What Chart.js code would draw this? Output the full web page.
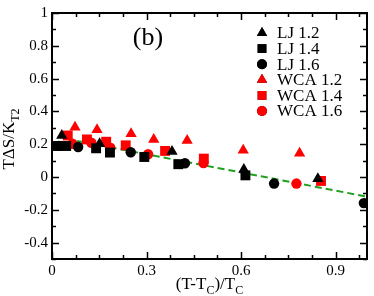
<!DOCTYPE html>
<html>
<head>
<meta charset="utf-8">
<script src="https://cdn.jsdelivr.net/npm/chart.js@4"></script>
<style>
  html, body { margin: 0; padding: 0; background: #fff; }
  #wrap { width: 374px; height: 296px; }
</style>
</head>
<body>
<div id="wrap"><canvas id="chart" width="374" height="296"></canvas></div>
<script>
// values
const lj12X = [0.031, 0.151, 0.381, 0.609, 0.844];
const lj12Y = [0.253, 0.202, 0.156, 0.046, -0.010];
const lj14X = [0.018, 0.045, 0.140, 0.184, 0.293, 0.401, 0.614];
const lj14Y = [0.189, 0.189, 0.175, 0.149, 0.122, 0.078, 0.010];
const lj16X = [0.022, 0.083, 0.250, 0.422, 0.705, 0.990];
const lj16Y = [0.190, 0.183, 0.151, 0.084, -0.040, -0.159];
const wca12X = [0.073, 0.143, 0.251, 0.323, 0.429, 0.607, 0.786];
const wca12Y = [0.304, 0.288, 0.264, 0.229, 0.223, 0.163, 0.145];
const wca14X = [0.050, 0.111, 0.172, 0.234, 0.359, 0.482, 0.854];
const wca14Y = [0.253, 0.229, 0.215, 0.193, 0.159, 0.112, -0.024];
const wca16X = [0.065, 0.125, 0.185, 0.305, 0.481, 0.776];
const wca16Y = [0.203, 0.209, 0.179, 0.139, 0.085, -0.040];
const fitX = [0.08, 1.0];
const fitY = [0.22, -0.12];
const xTicks = [0, 0.3, 0.6, 0.9];
const yTicks = [-0.4, -0.2, 0, 0.2, 0.4, 0.6, 0.8, 1];

const serif = '"Liberation Serif", "Times New Roman", serif';

function pts(xs, ys) {
    return xs.map((x, i) => ({ x: x, y: ys[i] }));
}

function series(label, xs, ys, color, style, radius) {
    return {
        label: label,
        data: pts(xs, ys),
        showLine: false,
        pointStyle: style,
        pointRadius: radius,
        pointBackgroundColor: color,
        pointBorderColor: color,
        pointBorderWidth: 0,
        backgroundColor: color,
        borderColor: color
    };
}

const datasets = [
    series('LJ 1.2', lj12X, lj12Y, '#000', 'triangle', 6.5),
    series('LJ 1.4', lj14X, lj14Y, '#000', 'rect', 7),
    series('LJ 1.6', lj16X, lj16Y, '#000', 'circle', 5.2),
    series('WCA 1.2', wca12X, wca12Y, '#ff0000', 'triangle', 6.5),
    series('WCA 1.4', wca14X, wca14Y, '#ff0000', 'rect', 7),
    series('WCA 1.6', wca16X, wca16Y, '#ff0000', 'circle', 5.2),
    {
        label: 'fit',
        type: 'line',
        data: pts(fitX, fitY),
        borderColor: '#1fa01f',
        borderWidth: 2,
        borderDash: [7, 4],
        pointRadius: 0,
        fill: false
    }
];

// frame, inward ticks, axis titles, (b) and the legend
const decorations = {
    id: 'decorations',
    afterDraw(chart) {
        const ctx = chart.ctx;
        const a = chart.chartArea;
        const xs = chart.scales.x;
        const ys = chart.scales.y;
        ctx.save();
        ctx.strokeStyle = '#000';
        ctx.lineWidth = 1.5;
        // x ticks, major every 0.3, minor every 0.075
        for (let i = 0; i <= 13; i++) {
            const v = i * 0.075;
            if (v > 1.0001) break;
            const len = (i % 4 === 0) ? 7 : 4;
            const px = Math.round(xs.getPixelForValue(v)) + 0.5;
            ctx.beginPath();
            ctx.moveTo(px, a.bottom); ctx.lineTo(px, a.bottom - len);
            ctx.moveTo(px, a.top); ctx.lineTo(px, a.top + len);
            ctx.stroke();
        }
        // y ticks, major every 0.2, minor every 0.1
        for (let i = -5; i <= 10; i++) {
            const v = i / 10;
            const len = (i % 2 === 0) ? 7 : 4;
            const py = Math.round(ys.getPixelForValue(v)) + 0.5;
            ctx.beginPath();
            ctx.moveTo(a.left, py); ctx.lineTo(a.left + len, py);
            ctx.moveTo(a.right, py); ctx.lineTo(a.right - len, py);
            ctx.stroke();
        }
        ctx.lineWidth = 2;
        ctx.strokeRect(a.left, a.top, a.right - a.left, a.bottom - a.top);

        ctx.fillStyle = '#000';
        ctx.textBaseline = 'alphabetic';

        // x title: (T-T_C)/T_C
        const main = '17px ' + serif, sub = '12px ' + serif;
        const xParts = [['(T-T', main, 0], ['C', sub, 5], [')/T', main, 0], ['C', sub, 5]];
        let w = 0;
        xParts.forEach(p => { ctx.font = p[1]; w += ctx.measureText(p[0]).width; });
        let cx = (a.left + a.right) / 2 - w / 2;
        xParts.forEach(p => {
            ctx.font = p[1];
            ctx.fillText(p[0], cx, 289 + p[2]);
            cx += ctx.measureText(p[0]).width;
        });

        // y title: TΔS/K_T2
        const yParts = [['T\u0394S/K', main, 0], ['T2', sub, 5]];
        w = 0;
        yParts.forEach(p => { ctx.font = p[1]; w += ctx.measureText(p[0]).width; });
        ctx.save();
        ctx.translate(14, (a.top + a.bottom) / 2 + 3);
        ctx.rotate(-Math.PI / 2);
        cx = -w / 2;
        yParts.forEach(p => {
            ctx.font = p[1];
            ctx.fillText(p[0], cx, p[2]);
            cx += ctx.measureText(p[0]).width;
        });
        ctx.restore();

        // panel label
        ctx.font = '26px ' + serif;
        ctx.textAlign = 'center';
        ctx.fillText('(b)', 148, 45);
        ctx.textAlign = 'left';

        // legend
        const rowY = 33, rowGap = 15.6;
        ctx.font = '17px ' + serif;
        ctx.textBaseline = 'middle';
        chart.data.datasets.slice(0, 6).forEach((ds, i) => {
            const y = rowY + i * rowGap;
            Chart.helpers.drawPoint(ctx, {
                pointStyle: ds.pointStyle,
                radius: ds.pointStyle === 'rect' ? 6.2 : (ds.pointStyle === 'triangle' ? 6 : 5),
                borderWidth: 0,
                rotation: 0
            }, 262, y);
            ctx.fillStyle = ds.pointBackgroundColor;
            ctx.fill();
            ctx.fillStyle = '#000';
            ctx.fillText(ds.label, 277, y + 1);
        });
        ctx.restore();
    }
};

const ctx = document.getElementById('chart').getContext('2d');
new Chart(ctx, {
    type: 'scatter',
    data: { datasets: datasets },
    options: {
        responsive: false,
        animation: false,
        layout: { padding: { top: 6, right: 3, left: 0, bottom: 0 } },
        scales: {
            x: {
                type: 'linear',
                min: 0,
                max: 1,
                grid: { display: false, drawTicks: false },
                border: { display: false },
                afterBuildTicks: s => { s.ticks = xTicks.map(v => ({ value: v })); },
                afterFit: s => { s.height = 37; },
                ticks: {
                    color: '#000',
                    padding: 3,
                    maxRotation: 0,
                    font: { family: serif, size: 15 },
                    callback: v => String(v)
                }
            },
            y: {
                type: 'linear',
                min: -0.5,
                max: 1,
                grid: { display: false, drawTicks: false },
                border: { display: false },
                afterBuildTicks: s => { s.ticks = yTicks.map(v => ({ value: v })); },
                afterFit: s => { s.width = 52; },
                ticks: {
                    color: '#000',
                    padding: 4,
                    font: { family: serif, size: 15 },
                    callback: v => String(Math.round(v * 10) / 10)
                }
            }
        },
        plugins: {
            legend: { display: false },
            tooltip: { enabled: false }
        }
    },
    plugins: [decorations]
});
</script>
</body>
</html>
